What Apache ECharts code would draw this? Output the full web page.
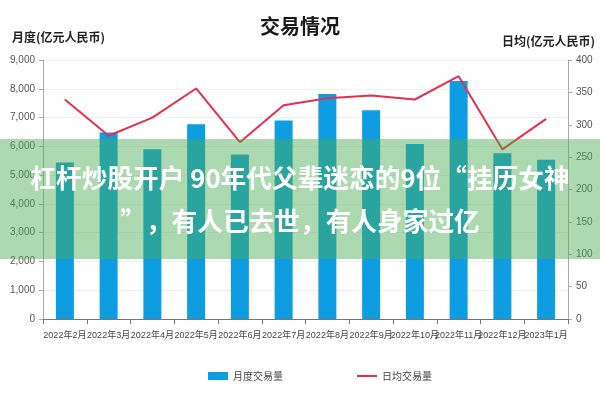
<!DOCTYPE html>
<html>
<head>
<meta charset="utf-8">
<script src="https://cdn.jsdelivr.net/npm/echarts@6/dist/echarts.min.js"></script>
<style>html,body{margin:0;padding:0;background:#fff}#c{width:600px;height:400px}</style>
</head>
<body>
<div id="c"></div>
<script>
const categories = ['2022年2月','2022年3月','2022年4月','2022年5月','2022年6月','2022年7月','2022年8月','2022年9月','2022年10月','2022年11月','2022年12月','2023年1月'];
const monthlyVolume = [5440, 6480, 5900, 6770, 5720, 6900, 7820, 7250, 6080, 8270, 5760, 5530];
const dailyVolume = [339, 283, 311, 356, 273, 330, 341, 345, 339, 375, 262, 309];
const leftTicks = {min: 0, max: 9000, interval: 1000};
const rightTicks = {min: 0, max: 400, interval: 50};
const titleText = '交易情况';
const leftAxisName = '月度(亿元人民币)';
const rightAxisName = '日均(亿元人民币)';
const seriesNames = ['月度交易量', '日均交易量'];
const bannerLines = ['杠杆炒股开户 90年代父辈迷恋的9位“挂历女神', '”，有人已去世，有人身家过亿'];

const cjk = '"Noto Sans CJK SC", "Noto Sans", sans-serif';
const chart = echarts.init(document.getElementById('c'), null, {renderer: 'canvas'});
chart.setOption({
  animation: false,
  backgroundColor: '#ffffff',
  title: {
    text: titleText, left: 'center', top: 11,
    textStyle: {fontFamily: cjk, fontSize: 20, fontWeight: 'bold', color: '#1a1a1a'}
  },
  legend: {
    bottom: 14, left: 203, itemGap: 74, itemWidth: 20, itemHeight: 8,
    textStyle: {fontFamily: cjk, fontSize: 10, color: '#444'},
    data: [{name: seriesNames[0], icon: 'rect'}, {name: seriesNames[1], icon: 'path://M0,4L20,4L20,6L0,6Z'}]
  },
  grid: {left: 43, right: 32, top: 60, bottom: 81, containLabel: false},
  xAxis: {
    type: 'category', data: categories,
    axisLine: {lineStyle: {color: '#777', width: 1}},
    axisTick: {show: true, length: 5, alignWithLabel: false, lineStyle: {color: '#777'}},
    axisLabel: {interval: 0, margin: 12, fontSize: 9, color: '#444', fontFamily: '"Liberation Sans Narrow", "Liberation Sans", "Noto Sans CJK SC", sans-serif'}
  },
  yAxis: [
    {
      type: 'value', min: leftTicks.min, max: leftTicks.max, interval: leftTicks.interval,
      axisLine: {show: true, lineStyle: {color: '#aaa'}},
      axisTick: {show: true, length: 4, lineStyle: {color: '#aaa'}},
      axisLabel: {fontSize: 10, color: '#555', margin: 8, fontFamily: '"Liberation Sans Narrow", "Liberation Sans", sans-serif',
        formatter: v => v.toLocaleString('en-US')},
      splitLine: {show: true, lineStyle: {color: '#f0f0f0'}}
    },
    {
      type: 'value', min: rightTicks.min, max: rightTicks.max, interval: rightTicks.interval,
      axisLine: {show: true, lineStyle: {color: '#aaa'}},
      axisTick: {show: true, length: 4, lineStyle: {color: '#aaa'}},
      axisLabel: {fontSize: 10, color: '#555', margin: 8, fontFamily: '"Liberation Sans Narrow", "Liberation Sans", sans-serif'},
      splitLine: {show: false}
    }
  ],
  series: [
    {
      name: seriesNames[0], type: 'bar', yAxisIndex: 0, data: monthlyVolume,
      barWidth: 18, itemStyle: {color: '#0e9de0'}
    },
    {
      name: seriesNames[1], type: 'line', yAxisIndex: 1, data: dailyVolume,
      symbol: 'none', lineStyle: {color: '#e5304d', width: 2}, itemStyle: {color: '#e5304d'}
    }
  ],
  graphic: [
    {type: 'text', left: 12, top: 31, style: {text: leftAxisName, fontFamily: cjk, fontSize: 12, fontWeight: 'bold', fill: '#222'}},
    {type: 'text', left: 502, top: 35, style: {text: rightAxisName, fontFamily: cjk, fontSize: 12, fontWeight: 'bold', fill: '#222'}},
    {type: 'rect', left: 0, top: 139, z: 100, shape: {width: 600, height: 120}, style: {fill: 'rgba(76,172,82,0.46)'}},
    {type: 'text', left: 'center', top: 165, z: 101, style: {text: bannerLines[0], fontFamily: cjk, fontSize: 25.7, fontWeight: 'bold', fill: '#ffffff'}},
    {type: 'text', left: 'center', top: 208, z: 101, style: {text: bannerLines[1], fontFamily: cjk, fontSize: 25.7, fontWeight: 'bold', fill: '#ffffff'}}
  ]
});
</script>
</body>
</html>
